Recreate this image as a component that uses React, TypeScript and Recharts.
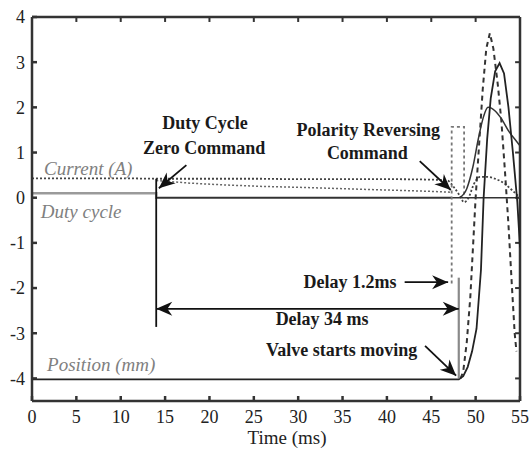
import { LineChart, Line, XAxis, YAxis, ReferenceLine, ReferenceDot } from 'recharts';

// ---- data (time in ms) ----
const xTicks = [0, 5, 10, 15, 20, 25, 30, 35, 40, 45, 50, 55];
const yTicks = [-4, -3, -2, -1, 0, 1, 2, 3, 4];

// Position (mm), solid
const posT = [0, 10, 20, 30, 40, 48.1, 48.6, 49.1, 49.6, 50.1, 50.6, 50.9, 51.3, 51.7, 52.2, 52.7, 53.2, 53.7, 54.2, 54.7, 55];
const posV = [-4.02, -4.02, -4.02, -4.02, -4.02, -4.02, -3.95, -3.75, -3.4, -2.9, -1.6, 0.0, 1.3, 2.2, 2.8, 2.98, 2.75, 2.0, 1.0, -0.1, -1.1];

// second solid trace after reversal (peak ~2)
const solid2T = [48.2, 49.0, 49.7, 50.3, 50.9, 51.4, 52.2, 52.9, 53.8, 54.6, 55];
const solid2V = [0.0, 0.2, 0.69, 1.3, 1.8, 2.0, 1.92, 1.75, 1.45, 1.25, 1.15];

// dashed trace (peak ~3.6)
const dashT = [48.3, 48.6, 49.0, 49.4, 49.7, 50.0, 50.4, 50.8, 51.2, 51.6, 52.0, 52.5, 52.9, 53.3, 53.7, 54.1, 54.4, 54.6];
const dashV = [-4.0, -3.85, -3.2, -2.2, -1.1, 0.0, 1.2, 2.4, 3.3, 3.64, 3.3, 2.5, 1.7, 0.6, -0.6, -2.0, -3.0, -3.4];

// Current (A), dotted
const curT = [0, 5, 10, 14, 20, 25, 30, 35, 40, 45, 46.8, 47.6, 48.2, 48.7, 49.2, 49.8, 50.5, 51.3, 52.2, 53.2, 54.2, 55];
const curV = [0.43, 0.43, 0.43, 0.42, 0.42, 0.42, 0.41, 0.41, 0.41, 0.4, 0.38, 0.22, 0.05, -0.1, 0.0, 0.3, 0.46, 0.46, 0.42, 0.32, 0.15, 0.0];

// decaying current after zero command, grey dotted
const decT = [14, 18, 22, 26, 30, 35, 40, 45, 47.3];
const decV = [0.38, 0.32, 0.28, 0.25, 0.23, 0.2, 0.17, 0.14, 0.12];

// Duty cycle, grey
const dutyT = [0, 14, 14, 47.3];
const dutyV = [0.1, 0.1, 0.0, 0.0];
const zeroT = [14, 55];
const zeroV = [0, 0];

// reversing pulse, grey dotted
const pulseT = [47.3, 47.3, 48.7, 48.7];
const pulseV = [-1.9, 1.57, 1.57, 0.0];

const pts = (t: number[], v: number[]) => t.map((x, i) => ({ t: x, v: v[i] }));

const FONT = '"Liberation Serif", "DejaVu Serif", serif';
const FRAME = '#333';

const arrow = (both: boolean) => (p: any) => {
  const { x1, y1, x2, y2 } = p;
  const a = Math.atan2(y2 - y1, x2 - x1);
  const head = (x: number, y: number, ang: number) => {
    const L = 16, W = 7;
    const bx = x - L * Math.cos(ang), by = y - L * Math.sin(ang);
    const nx = -Math.sin(ang) * W, ny = Math.cos(ang) * W;
    return `${x},${y} ${bx + nx},${by + ny} ${bx + L * 0.3 * Math.cos(ang)},${by + L * 0.3 * Math.sin(ang)} ${bx - nx},${by - ny}`;
  };
  return (
    <g>
      <line x1={x1} y1={y1} x2={x2} y2={y2} stroke="#111" strokeWidth={1.8} />
      <polygon points={head(x2, y2, a)} fill="#111" />
      {both && <polygon points={head(x1, y1, a + Math.PI)} fill="#111" />}
    </g>
  );
};

type Note = { t: number; v: number; text: string; italic?: boolean; anchor?: 'start' | 'middle' };
const notes: Note[] = [
  { t: 1.35, v: 0.5, text: 'Current (A)', italic: true },
  { t: 1.0, v: -0.46, text: 'Duty cycle', italic: true },
  { t: 1.7, v: -3.83, text: 'Position (mm)', italic: true },
  { t: 19.5, v: 1.52, text: 'Duty Cycle', anchor: 'middle' },
  { t: 19.4, v: 0.97, text: 'Zero Command', anchor: 'middle' },
  { t: 37.9, v: 1.37, text: 'Polarity Reversing', anchor: 'middle' },
  { t: 37.8, v: 0.85, text: 'Command', anchor: 'middle' },
  { t: 30.6, v: -2.0, text: 'Delay 1.2ms' },
  { t: 32.7, v: -2.82, text: 'Delay 34 ms', anchor: 'middle' },
  { t: 34.9, v: -3.5, text: 'Valve starts moving', anchor: 'middle' },
];

const noteShape = (n: Note) => (p: any) => (
  <text
    x={p.cx}
    y={p.cy}
    textAnchor={n.anchor ?? 'start'}
    fontFamily={FONT}
    fontSize={n.italic ? 19 : 18}
    fontStyle={n.italic ? 'italic' : 'normal'}
    fontWeight={n.italic ? 'normal' : 'bold'}
    fill={n.italic ? '#808080' : '#1a1a1a'}
  >
    {n.text}
  </text>
);

const tickStyle = { fill: '#222', fontSize: 18, fontFamily: FONT };

export default function App() {
  return (
    <div style={{ position: 'absolute', left: 0, top: 0, background: '#fff' }}>
      <LineChart width={531} height={449} margin={{ top: 17, right: 11, left: 6, bottom: 2 }}>
        <XAxis
          dataKey="t" type="number" domain={[0, 55]} ticks={xTicks} allowDataOverflow
          height={46} tickSize={-5} tickMargin={14} stroke={FRAME} strokeWidth={2.5}
          tick={tickStyle}
          label={{ value: 'Time (ms)', position: 'insideBottom', offset: 3, dx: 11, style: { fill: '#222', fontSize: 19, fontFamily: FONT } }}
        />
        <YAxis
          type="number" domain={[-4.5, 4]} ticks={yTicks} allowDataOverflow width={26}
          tickSize={-5} tickMargin={12} stroke={FRAME} strokeWidth={2.5} tick={tickStyle}
        />

        {/* box frame: top and right edges with inward ticks */}
        <ReferenceLine y={4} stroke={FRAME} strokeWidth={2.5} />
        <ReferenceLine x={55} stroke={FRAME} strokeWidth={2.5} />
        {xTicks.slice(1, -1).map((t) => (
          <ReferenceLine key={'tx' + t} segment={[{ x: t, y: 4 }, { x: t, y: 3.89 }]} stroke={FRAME} strokeWidth={2} />
        ))}
        {yTicks.slice(0, -1).map((v) => (
          <ReferenceLine key={'ty' + v} segment={[{ x: 55, y: v }, { x: 54.45, y: v }]} stroke={FRAME} strokeWidth={2} />
        ))}

        <Line data={pts(dutyT, dutyV)} dataKey="v" type="linear" dot={false} stroke="#9a9a9a" strokeWidth={2.5} isAnimationActive={false} />
        <Line data={pts(zeroT, zeroV)} dataKey="v" type="linear" dot={false} stroke="#333" strokeWidth={1.5} isAnimationActive={false} />
        <Line data={pts(decT, decV)} dataKey="v" type="linear" dot={false} stroke="#666" strokeWidth={1.5} strokeDasharray="2 2" isAnimationActive={false} />
        <Line data={pts(curT, curV)} dataKey="v" type="monotone" dot={false} stroke="#444" strokeWidth={1.8} strokeDasharray="2 2" isAnimationActive={false} />
        <Line data={pts(pulseT, pulseV)} dataKey="v" type="linear" dot={false} stroke="#777" strokeWidth={1.8} strokeDasharray="3 3" isAnimationActive={false} />
        <Line data={pts(solid2T, solid2V)} dataKey="v" type="monotone" dot={false} stroke="#333" strokeWidth={1.5} isAnimationActive={false} />
        <Line data={pts(dashT, dashV)} dataKey="v" type="linear" dot={false} stroke="#333" strokeWidth={2} strokeDasharray="5 4" isAnimationActive={false} />
        <Line data={pts(posT, posV)} dataKey="v" type="linear" dot={false} stroke="#222" strokeWidth={1.8} isAnimationActive={false} />

        <ReferenceLine segment={[{ x: 14, y: 0.42 }, { x: 14, y: -2.86 }]} stroke="#111" strokeWidth={1.8} />
        <ReferenceLine segment={[{ x: 48.1, y: -1.77 }, { x: 48.1, y: -4.0 }]} stroke="#8a8a8a" strokeWidth={2.2} />
        <ReferenceLine segment={[{ x: 14, y: -2.46 }, { x: 48.1, y: -2.46 }]} shape={arrow(true)} />
        <ReferenceLine segment={[{ x: 42.0, y: -1.87 }, { x: 46.9, y: -1.87 }]} shape={arrow(false)} />
        <ReferenceLine segment={[{ x: 17.4, y: 0.72 }, { x: 14.3, y: 0.21 }]} shape={arrow(false)} />
        <ReferenceLine segment={[{ x: 43.7, y: 0.81 }, { x: 47.2, y: 0.17 }]} shape={arrow(false)} />
        <ReferenceLine segment={[{ x: 44.3, y: -3.28 }, { x: 47.8, y: -3.94 }]} shape={arrow(false)} />

        {notes.map((n) => (
          <ReferenceDot key={n.text} x={n.t} y={n.v} r={0} shape={noteShape(n)} />
        ))}
      </LineChart>
    </div>
  );
}
